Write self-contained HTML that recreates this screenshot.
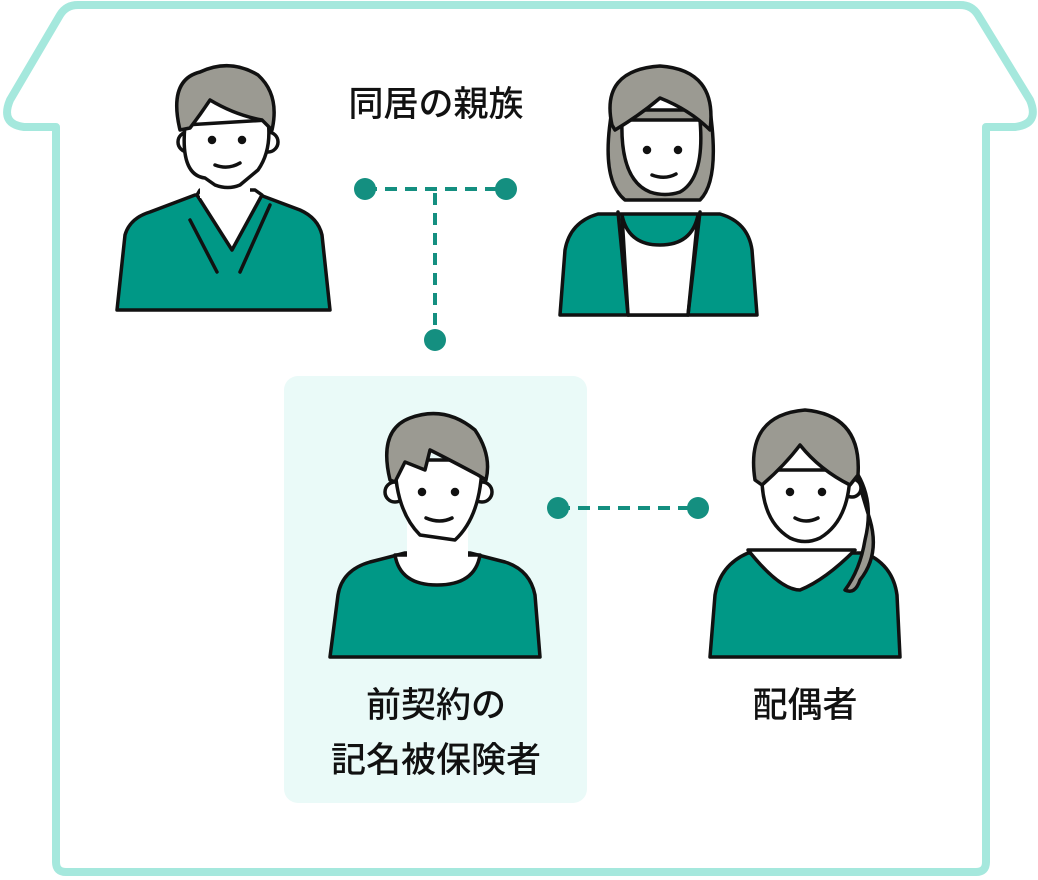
<!DOCTYPE html>
<html><head><meta charset="utf-8"><style>
html,body{margin:0;padding:0;background:#fff;}
svg{display:block}
text{font-family:"Liberation Sans","Noto Sans CJK JP",sans-serif;font-size:35px;fill:#111;text-anchor:middle;font-weight:500}
</style></head><body>
<svg width="1038" height="880" viewBox="0 0 1038 880">
<path d="M78,5 L960,5 Q972,5 978,15 L1030,100 Q1040,124 1015,127 L986,127 L986,862 Q986,872 976,872 L66,872 Q56,872 56,862 L56,127 L24,127 Q0,124 10,100 L60,15 Q66,5 78,5 Z" fill="#fff" stroke="#a5e8dd" stroke-width="8" stroke-linejoin="round"/>
<rect x="284" y="376" width="303" height="427" rx="14" fill="#eafaf8"/>
<g stroke="#148f80" stroke-width="4" stroke-dasharray="12,8" fill="none">
<line x1="365" y1="189" x2="506" y2="189"/>
<line x1="435" y1="193" x2="435" y2="338"/>
<line x1="558" y1="508" x2="698" y2="508"/>
</g>
<g fill="#148f80"><circle cx="365" cy="189" r="11"/><circle cx="506" cy="189" r="11"/><circle cx="435" cy="340" r="11"/><circle cx="558" cy="508" r="11"/><circle cx="698" cy="508" r="11"/></g>
<g stroke="#111" stroke-width="3.5" stroke-linejoin="round" stroke-linecap="round">
<!-- man 1 -->
<path d="M117,310 L125,235 Q130,218 150,212 L195,195 L260,195 L300,210 Q318,218 322,235 L330,310 Z" fill="#009886"/>
<path d="M197,195 L232,250 L262,195 L255,190 L200,190 Z" fill="#fff"/>
<path d="M190,220 L217,272 M270,205 L240,272" fill="none"/>
<rect x="200" y="160" width="50" height="38" fill="#fff" stroke="none"/>
<circle cx="188" cy="142" r="10" fill="#fff"/><circle cx="268" cy="142" r="10" fill="#fff"/>
<path d="M185,125 Q180,175 205,178 L215,185 Q228,190 240,185 L258,170 Q272,150 268,120 Z" fill="#fff"/>
<path d="M180,130 Q168,80 200,72 Q230,58 258,75 Q280,95 272,130 L262,120 Q235,115 210,100 Q200,115 190,128 Z" fill="#9b9a92"/>
<circle cx="212" cy="140" r="2.5" fill="#111"/><circle cx="242" cy="140" r="2.5" fill="#111"/>
<path d="M215,165 Q228,170 240,163" fill="none"/>
<!-- woman 1 -->
<path d="M560,315 L565,250 Q570,222 598,214 L720,214 Q748,222 752,250 L757,315 Z" fill="#009886"/>
<path d="M622,215 Q628,245 660,245 Q692,245 698,215 L688,315 L628,315 Z" fill="#fff"/>
<path d="M618,212 L628,315 M700,212 L688,315" fill="none"/>
<path d="M612,110 Q600,180 625,200 L700,200 Q720,180 710,110 Z" fill="#9b9a92"/>
<path d="M622,120 Q620,180 650,192 Q665,197 680,192 Q705,178 700,120 Z" fill="#fff"/>
<path d="M612,125 Q600,70 660,66 Q718,70 710,130 Q690,110 660,98 Q640,115 615,130 Z" fill="#9b9a92"/>
<circle cx="647" cy="150" r="2.5" fill="#111"/><circle cx="678" cy="150" r="2.5" fill="#111"/>
<path d="M652,175 Q665,180 676,174" fill="none"/>
<!-- center -->
<path d="M330,657 L338,595 Q342,570 370,562 L405,553 L470,553 L505,562 Q530,570 535,595 L540,657 Z" fill="#009886"/>
<path d="M395,555 Q400,585 437,585 Q475,585 480,555 Z" fill="#fff"/>
<rect x="407" y="520" width="61" height="40" fill="#fff" stroke="none"/>
<circle cx="395" cy="492" r="10" fill="#fff"/><circle cx="482" cy="492" r="10" fill="#fff"/>
<path d="M395,460 Q395,510 420,535 L455,540 Q482,515 482,460 Z" fill="#fff"/>
<path d="M390,480 Q378,430 410,418 Q445,405 475,430 Q492,455 486,480 L478,475 Q450,460 430,450 L425,470 L405,462 L395,482 Z" fill="#9b9a92"/>
<circle cx="422" cy="492" r="2.5" fill="#111"/><circle cx="455" cy="492" r="2.5" fill="#111"/>
<path d="M426,518 Q440,524 452,518" fill="none"/>
<!-- wife -->
<path d="M710,657 L715,595 Q720,565 748,553 L865,553 Q893,565 897,595 L900,657 Z" fill="#009886"/>
<path d="M748,550 Q780,590 800,590 Q825,580 855,550 Z" fill="#fff"/>
<path d="M855,470 Q875,500 865,540 Q860,570 845,590 Q855,595 860,580 Q880,555 870,520 Z" fill="#9b9a92"/>
<circle cx="852" cy="488" r="9" fill="#fff"/>
<path d="M762,470 Q760,520 790,538 Q805,545 820,538 Q850,520 850,470 Z" fill="#fff"/>
<path d="M755,480 Q745,415 805,410 Q862,415 858,475 L850,485 Q820,470 800,445 Q785,465 762,485 Z" fill="#9b9a92"/>
<circle cx="790" cy="492" r="2.5" fill="#111"/><circle cx="822" cy="492" r="2.5" fill="#111"/>
<path d="M795,518 Q806,524 818,518" fill="none"/>
</g>
<text x="436" y="116">同居の親族</text>
<text x="436" y="717">前契約の</text>
<text x="436" y="772">記名被保険者</text>
<text x="805" y="717">配偶者</text>
</svg>
</body></html>
